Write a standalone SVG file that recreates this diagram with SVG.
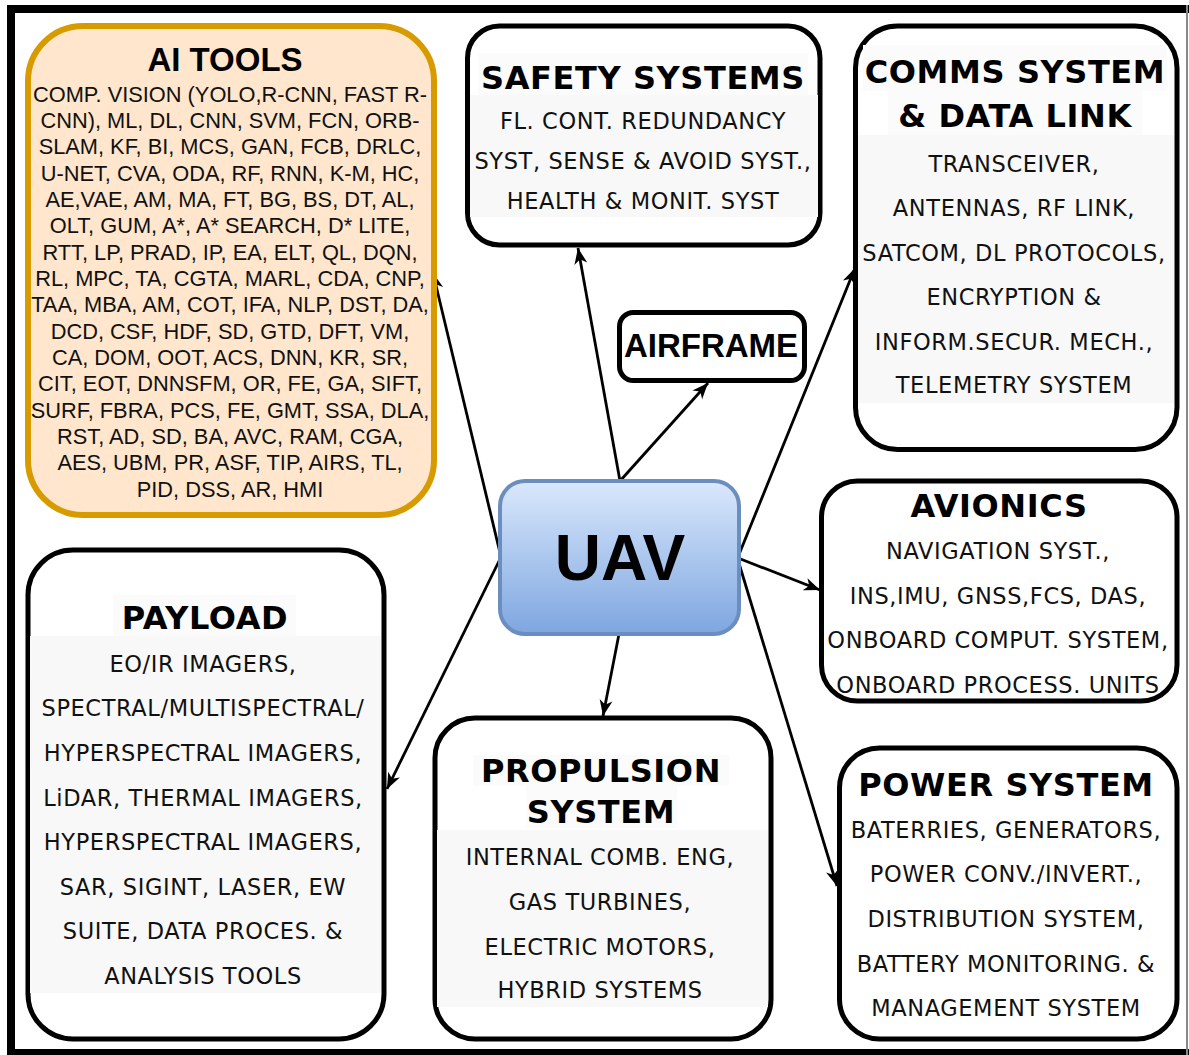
<svg xmlns="http://www.w3.org/2000/svg" width="1189" height="1055" viewBox="0 0 1189 1055">
  <style>
    .box { fill: #ffffff; stroke: #000000; stroke-width: 5; }
    .band { fill: #f8f8f8; }
    .tband { fill: #fbfbfb; }
    .title { font-family: "DejaVu Sans", Verdana, sans-serif; font-weight: bold; font-size: 32px; fill: #000; text-anchor: middle; letter-spacing: 0.6px; }
    .body { font-family: "DejaVu Sans", Verdana, sans-serif; font-size: 22.5px; fill: #111; text-anchor: middle; letter-spacing: 0.6px; }
    .atitle { font-family: "Liberation Sans", Arial, sans-serif; font-weight: bold; font-size: 33px; fill: #000; text-anchor: middle; }
    .abody { font-family: "Liberation Sans", Arial, sans-serif; font-size: 21.8px; fill: #111; text-anchor: middle; }
    .link { stroke: #000; stroke-width: 2.8; fill: none; marker-end: url(#arrow); }
  </style>
  <defs>
    <marker id="arrow" markerUnits="userSpaceOnUse" markerWidth="20" markerHeight="16" refX="17" refY="8" orient="auto">
      <path d="M1,1.5 L17,8 L1,14.5 L5.5,8 Z" fill="#000"/>
    </marker>
    <linearGradient id="uavFill" x1="0" y1="0" x2="0" y2="1">
      <stop offset="0" stop-color="#dae8fc"/>
      <stop offset="1" stop-color="#7ea6e0"/>
    </linearGradient>
  </defs>

  <!-- page -->
  <rect x="0" y="0" width="1189" height="1055" fill="#ffffff"/>
  <!-- frame -->
  <g id="frame">
    <rect x="7" y="5" width="1182" height="8" fill="#000"/>
    <rect x="7" y="5" width="8" height="1050" fill="#000"/>
    <rect x="7" y="1049" width="1182" height="6" fill="#000"/>
    <rect x="1186" y="5" width="2" height="1050" fill="#888"/>
  </g>

  <!-- connectors -->
  <g id="connectors">
    <line class="link" x1="501" y1="557" x2="433" y2="273"/>
    <line class="link" x1="620" y1="481" x2="578" y2="248"/>
    <line class="link" x1="620" y1="481" x2="708" y2="383"/>
    <line class="link" x1="738" y1="557" x2="855" y2="268"/>
    <line class="link" x1="738" y1="558" x2="820" y2="590"/>
    <line class="link" x1="738" y1="560" x2="837" y2="886"/>
    <line class="link" x1="619" y1="634" x2="603" y2="716"/>
    <line class="link" x1="501" y1="557" x2="387" y2="789"/>
  </g>

  <!-- AI tools -->
  <g id="ai-tools">
    <rect x="28" y="26" width="406" height="489" rx="55" ry="55" fill="#ffe6cc" stroke="#d79b00" stroke-width="6"/>
    <text class="atitle" x="225" y="71">AI TOOLS</text>
    <text class="abody" x="230" y="101.5">COMP. VISION (YOLO,R-CNN, FAST R-</text>
    <text class="abody" x="230" y="127.9">CNN), ML, DL, CNN, SVM, FCN, ORB-</text>
    <text class="abody" x="230" y="154.2">SLAM, KF, BI, MCS, GAN, FCB, DRLC,</text>
    <text class="abody" x="230" y="180.6">U-NET, CVA, ODA, RF, RNN, K-M, HC,</text>
    <text class="abody" x="230" y="206.9">AE,VAE, AM, MA, FT, BG, BS, DT, AL,</text>
    <text class="abody" x="230" y="233.3">OLT, GUM, A*, A* SEARCH, D* LITE,</text>
    <text class="abody" x="230" y="259.6">RTT, LP, PRAD,  IP, EA, ELT, QL, DQN,</text>
    <text class="abody" x="230" y="286">RL, MPC, TA, CGTA, MARL, CDA, CNP,</text>
    <text class="abody" x="230" y="312.3">TAA, MBA, AM, COT, IFA, NLP, DST, DA,</text>
    <text class="abody" x="230" y="338.7">DCD, CSF, HDF, SD, GTD, DFT, VM,</text>
    <text class="abody" x="230" y="365">CA, DOM, OOT, ACS, DNN, KR, SR,</text>
    <text class="abody" x="230" y="391.4">CIT, EOT, DNNSFM, OR, FE, GA, SIFT,</text>
    <text class="abody" x="230" y="417.7">SURF, FBRA, PCS, FE, GMT, SSA, DLA,</text>
    <text class="abody" x="230" y="444.1">RST, AD, SD, BA, AVC, RAM, CGA,</text>
    <text class="abody" x="230" y="470.4">AES, UBM, PR, ASF, TIP, AIRS, TL,</text>
    <text class="abody" x="230" y="496.8">PID, DSS, AR, HMI</text>
  </g>

  <!-- safety systems -->
  <g id="safety-systems">
    <rect class="box" x="467.5" y="26" width="352.5" height="219" rx="32" ry="32"/>
    <rect class="tband" x="478" y="53" width="330" height="42"/>
    <rect class="band" x="470" y="95" width="348" height="122"/>
    <text class="title" x="643" y="89">SAFETY SYSTEMS</text>
    <text class="body" x="643" y="129">FL. CONT. REDUNDANCY</text>
    <text class="body" x="643" y="168.5">SYST, SENSE &amp; AVOID SYST.,</text>
    <text class="body" x="643" y="209">HEALTH &amp; MONIT. SYST</text>
  </g>

  <!-- comms -->
  <g id="comms-system">
    <rect class="box" x="855.5" y="26" width="321.5" height="423.5" rx="42" ry="42"/>
    <rect class="tband" x="863" y="45" width="304" height="46"/>
    <rect class="tband" x="888" y="91" width="254" height="44"/>
    <rect class="band" x="858" y="135" width="316" height="268"/>
    <text class="title" x="1015" y="83">COMMS SYSTEM</text>
    <text class="title" x="1015" y="127">&amp; DATA LINK</text>
    <text class="body" x="1014" y="172">TRANSCEIVER,</text>
    <text class="body" x="1014" y="216">ANTENNAS, RF LINK,</text>
    <text class="body" x="1014" y="261">SATCOM, DL PROTOCOLS,</text>
    <text class="body" x="1014" y="305">ENCRYPTION &amp;</text>
    <text class="body" x="1014" y="350">INFORM.SECUR. MECH.,</text>
    <text class="body" x="1014" y="393">TELEMETRY SYSTEM</text>
  </g>

  <!-- airframe -->
  <g id="airframe">
    <rect class="box" x="619.5" y="312.5" width="185" height="68" rx="14" ry="14"/>
    <text class="atitle" x="711" y="357">AIRFRAME</text>
  </g>

  <!-- UAV hub -->
  <g id="uav">
    <rect x="500" y="481" width="239" height="153" rx="25" ry="25" fill="url(#uavFill)" stroke="#6c8ebf" stroke-width="4"/>
    <text x="620" y="580" font-family="Liberation Sans, Arial, sans-serif" font-weight="bold" font-size="64" text-anchor="middle" fill="#000">UAV</text>
  </g>

  <!-- avionics -->
  <g id="avionics">
    <rect class="box" x="821.5" y="481" width="355.5" height="220" rx="36" ry="36"/>
    <text class="title" x="999" y="517">AVIONICS</text>
    <text class="body" x="998" y="559">NAVIGATION SYST.,</text>
    <text class="body" x="998" y="604">INS,IMU, GNSS,FCS, DAS,</text>
    <text class="body" x="998" y="648">ONBOARD COMPUT. SYSTEM,</text>
    <text class="body" x="998" y="693">ONBOARD PROCESS. UNITS</text>
  </g>

  <!-- power -->
  <g id="power-system">
    <rect class="box" x="839.5" y="748" width="337.5" height="291" rx="40" ry="40"/>
    <text class="title" x="1006" y="796">POWER SYSTEM</text>
    <text class="body" x="1006" y="838">BATERRIES, GENERATORS,</text>
    <text class="body" x="1006" y="882">POWER CONV./INVERT.,</text>
    <text class="body" x="1006" y="927">DISTRIBUTION SYSTEM,</text>
    <text class="body" x="1006" y="972">BATTERY MONITORING. &amp;</text>
    <text class="body" x="1006" y="1016">MANAGEMENT SYSTEM</text>
  </g>

  <!-- payload -->
  <g id="payload">
    <rect class="box" x="28" y="550" width="356" height="489" rx="45" ry="45"/>
    <rect class="tband" x="113" y="595" width="183" height="41"/>
    <rect class="band" x="30" y="636" width="351" height="357"/>
    <text class="title" x="205" y="629">PAYLOAD</text>
    <text class="body" x="203" y="672">EO/IR IMAGERS,</text>
    <text class="body" x="203" y="716">SPECTRAL/MULTISPECTRAL/</text>
    <text class="body" x="203" y="761">HYPERSPECTRAL IMAGERS,</text>
    <text class="body" x="203" y="806">LiDAR, THERMAL IMAGERS,</text>
    <text class="body" x="203" y="850">HYPERSPECTRAL IMAGERS,</text>
    <text class="body" x="203" y="895">SAR, SIGINT, LASER, EW</text>
    <text class="body" x="203" y="939">SUITE, DATA PROCES. &amp;</text>
    <text class="body" x="203" y="984">ANALYSIS TOOLS</text>
  </g>

  <!-- propulsion -->
  <g id="propulsion-system">
    <rect class="box" x="435" y="718" width="336" height="321" rx="40" ry="40"/>
    <rect class="tband" x="473" y="755" width="256" height="31"/>
    <rect class="tband" x="526" y="786" width="151" height="42"/>
    <rect class="band" x="437" y="830" width="331" height="177"/>
    <text class="title" x="601" y="782">PROPULSION</text>
    <text class="title" x="601" y="823">SYSTEM</text>
    <text class="body" x="600" y="865">INTERNAL COMB. ENG,</text>
    <text class="body" x="600" y="910">GAS TURBINES,</text>
    <text class="body" x="600" y="955">ELECTRIC MOTORS,</text>
    <text class="body" x="600" y="998">HYBRID SYSTEMS</text>
  </g>
</svg>
